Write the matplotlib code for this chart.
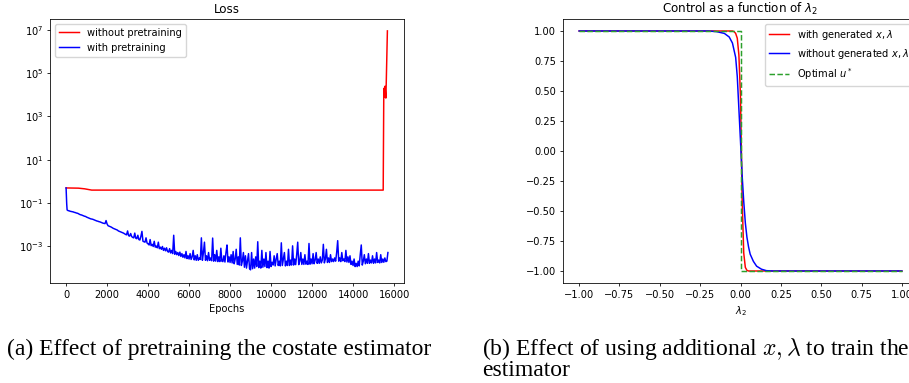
import numpy as np
import matplotlib
matplotlib.use("Agg")
import matplotlib.pyplot as plt
from matplotlib.ticker import NullLocator

# escala de las subfiguras originales (640x480 reducidas)
s = 0.714
fs = 10 * s
plt.rcParams.update({
    "font.size": fs,
    "axes.linewidth": 0.8 * s,
    "xtick.major.width": 0.8 * s,
    "ytick.major.width": 0.8 * s,
    "xtick.major.size": 3.5 * s,
    "ytick.major.size": 3.5 * s,
    "xtick.major.pad": 3.5 * s,
    "ytick.major.pad": 3.5 * s,
    "axes.labelpad": 4 * s,
    "axes.titlepad": 6 * s,
    "lines.linewidth": 1.5 * s,
})

# --- datos (a): perdida por epoca, en log10 ---
red_epochs = [0, 600, 900, 1250, 15470, 15500, 15530, 15560, 15600, 15620, 15675]
red_logloss = [-0.31, -0.32, -0.35, -0.41, -0.41, 4.3, 3.9, 4.4, 3.85, 4.6, 6.96]

blue_start_epochs = [0, 30]
blue_start_logloss = [-0.31, -1.05]
# cada 50 epocas desde 50
blue_logloss = [
    -1.33, -1.36, -1.37, -1.39, -1.40, -1.41, -1.42, -1.44, -1.45, -1.47,
    -1.48, -1.50, -1.53, -1.55, -1.56, -1.58, -1.60, -1.62, -1.63, -1.66,
    -1.68, -1.70, -1.72, -1.74, -1.75, -1.76, -1.78, -1.80, -1.82, -1.84,
    -1.85, -1.87, -1.88, -1.90, -1.92, -1.94, -1.95, -1.96, -1.82, -1.98,
    -2.06, -2.08, -2.10, -2.12, -2.15, -2.18, -2.20, -2.22, -2.24, -2.26,
    -2.30, -2.32, -2.34, -2.36, -2.38, -2.40, -2.43, -2.46, -2.48, -2.30,
    -2.52, -2.54, -2.42, -2.56, -2.60, -2.62, -2.40, -2.64, -2.66, -2.50,
    -2.70, -2.72, -2.55, -2.32, -2.78, -2.80, -2.82, -2.62, -2.86, -2.90,
    -2.95, -2.70, -2.98, -2.92, -3.02, -2.78, -3.05, -3.00, -3.08, -2.82,
    -3.12, -3.05, -3.15, -3.02, -3.20, -3.10, -3.22, -3.08, -3.25, -3.28,
    -3.12, -3.32, -3.20, -3.35, -2.50, -3.38, -3.25, -3.40, -3.30, -3.44,
    -3.28, -3.48, -3.35, -3.52, -3.40, -3.55, -3.25, -3.58, -3.45, -3.60,
    -3.35, -3.62, -3.50, -3.20, -3.64, -3.45, -3.66, -3.40, -3.66, -3.55,
    -3.62, -2.62, -3.66, -3.30, -2.82, -3.66, -3.45, -3.68, -3.30, -3.66,
    -3.55, -3.68, -2.63, -3.70, -3.40, -3.70, -3.20, -3.72, -3.50, -3.72,
    -3.10, -3.70, -3.72, -3.45, -3.74, -3.30, -2.95, -3.74, -3.50, -3.76,
    -3.40, -3.78, -3.25, -3.82, -3.60, -3.15, -3.85, -3.50, -3.88, -2.62,
    -3.90, -3.70, -3.30, -3.98, -3.45, -4.02, -3.70, -3.35, -4.05, -4.10,
    -3.30, -4.05, -3.60, -4.02, -3.50, -3.95, -2.80, -4.00, -3.70, -4.02,
    -3.20, -3.98, -3.60, -3.95, -3.30, -4.00, -3.70, -4.02, -3.25, -3.95,
    -3.75, -3.88, -3.45, -3.92, -3.60, -3.35, -3.90, -3.70, -3.92, -2.85,
    -3.90, -3.60, -3.30, -3.92, -3.70, -3.90, -3.15, -3.90, -3.65, -3.88,
    -2.99, -3.88, -3.60, -3.86, -3.40, -2.82, -3.86, -3.70, -3.30, -3.85,
    -3.60, -3.85, -3.40, -3.84, -3.70, -3.85, -2.88, -3.84, -3.60, -3.82,
    -3.35, -3.82, -3.65, -3.30, -3.80, -3.60, -3.80, -3.50, -3.78, -3.65,
    -2.92, -3.78, -3.60, -3.15, -3.76, -3.55, -3.76, -3.40, -3.72, -3.60,
    -3.72, -3.55, -3.70, -3.30, -2.75, -3.70, -3.55, -3.72, -3.30, -3.68,
    -3.60, -3.72, -3.20, -3.74, -3.50, -3.76, -3.45, -3.85, -3.70, -3.90,
    -3.60, -3.95, -3.80, -3.95, -3.70, -3.92, -3.40, -2.95, -3.88, -3.70,
    -3.40, -3.82, -3.60, -3.80, -3.35, -3.80, -3.65, -3.78, -3.45, -3.80,
    -3.60, -3.78, -3.30, -3.76, -3.65, -3.78, -3.40, -3.76, -3.60, -3.75,
    -3.55, -3.72, -3.70, -3.30,
]

# --- datos (b): control en funcion de lambda_2 ---
lam_red = [-1.0, -0.05, -0.04, -0.03, -0.02, -0.01, 0.0, 0.005, 0.01, 0.02, 0.03, 0.04, 0.05, 1.0]
u_red = [1.0, 1.0, 0.995, 0.98, 0.94, 0.8, 0.45, 0.05, -0.4, -0.85, -0.97, -0.995, -1.0, -1.0]

lam_blue = [-1.0, -0.2, -0.15, -0.1, -0.07, -0.05, -0.03, -0.02, -0.01, 0.0, 0.01, 0.02, 0.03,
            0.04, 0.05, 0.06, 0.08, 0.1, 0.13, 0.16, 0.2, 1.0]
u_blue = [1.0, 1.0, 0.995, 0.98, 0.95, 0.9, 0.78, 0.62, 0.35, 0.08, -0.2, -0.42, -0.6,
          -0.72, -0.8, -0.86, -0.92, -0.96, -0.985, -0.997, -1.0, -1.0]

lam_opt = [-1.0, 0.0, 0.0, 1.0]
u_opt = [1.0, 1.0, -1.0, -1.0]

fig = plt.figure(figsize=(9.09, 3.83), dpi=100)

# (a) Loss
ax1 = fig.add_axes([50 / 909, 100 / 383, 354 / 909, 264 / 383])
blue_epochs = blue_start_epochs + [50 * (i + 1) for i in range(len(blue_logloss))]
ax1.plot(red_epochs, 10 ** np.array(red_logloss), color="red", label="without pretraining")
ax1.plot(blue_epochs, 10 ** np.array(blue_start_logloss + blue_logloss), color="blue",
         label="with pretraining")
ax1.set_yscale("log")
ax1.set_ylim(10 ** -4.71, 10 ** 7.51)
ax1.set_yticks([1e-3, 1e-1, 1e1, 1e3, 1e5, 1e7])
ax1.yaxis.set_minor_locator(NullLocator())
ax1.set_xticks(range(0, 16001, 2000))
ax1.set_xlim(-785, 16485)
ax1.set_xlabel("Epochs")
ax1.set_title("Loss")
ax1.legend(loc="upper left")

# (b) Control
ax2 = fig.add_axes([563 / 909, 100 / 383, 355 / 909, 264 / 383])
ax2.plot(lam_red, u_red, color="red", label=r"with generated $x,\lambda$")
ax2.plot(lam_blue, u_blue, color="blue", label=r"without generated $x,\lambda$")
ax2.plot(lam_opt, u_opt, color="tab:green", linestyle="--", label=r"Optimal $u^*$")
ax2.set_xticks(np.linspace(-1, 1, 9))
ax2.set_yticks(np.linspace(-1, 1, 9))
ax2.set_xlabel(r"$\lambda_2$")
ax2.set_title(r"Control as a function of $\lambda_2$")
ax2.legend(loc="upper right")

# leyendas de las subfiguras
cap = dict(family="Liberation Serif", fontsize=17, math_fontfamily="cm", va="baseline")
fig.text(7 / 909, 1 - 355 / 383, "(a) Effect of pretraining the costate estimator", **cap)
fig.text(482 / 909, 1 - 355 / 383, r"(b) Effect of using additional $x, \lambda$ to train the", **cap)
fig.text(482 / 909, 1 - 376 / 383, "estimator", **cap)

fig.savefig("out.png", dpi=100)
